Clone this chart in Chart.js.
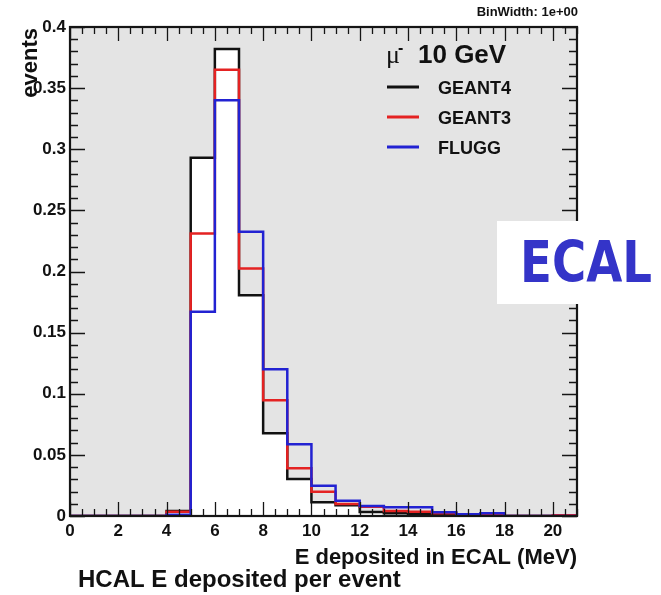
<!DOCTYPE html>
<html>
<head>
<meta charset="utf-8">
<script src="https://cdn.jsdelivr.net/npm/chart.js@4.4.0/dist/chart.umd.min.js"></script>
<style>
  html, body { margin: 0; padding: 0; background: #fff; }
  #wrap { position: relative; width: 661px; height: 595px; }
</style>
</head>
<body>
<div id="wrap"><canvas id="ecalChart" width="661" height="595"></canvas></div>
<script>
// energy bins, 1 MeV wide (left edges 0..20, closing edge 21)
const binEdges = [0, 1, 2, 3, 4, 5, 6, 7, 8, 9, 10, 11, 12, 13, 14, 15, 16, 17, 18, 19, 20, 21];

// fraction of events per bin
const geant4 = [0, 0, 0, 0, 0.004, 0.293, 0.382, 0.1805, 0.0676, 0.0303, 0.0112, 0.0087, 0.0033, 0.0022, 0.0014, 0.0008, 0.0003, 0, 0, 0, 0];
const geant3 = [0, 0, 0, 0, 0.0035, 0.231, 0.365, 0.2025, 0.0946, 0.039, 0.0199, 0.0098, 0.0076, 0.0041, 0.0035, 0.0022, 0.0008, 0.001, 0, 0, 0.0006];
const flugg  = [0, 0, 0, 0, 0.001, 0.167, 0.340, 0.2325, 0.120, 0.0586, 0.0248, 0.0125, 0.0082, 0.0071, 0.0071, 0.003, 0.0014, 0.0022, 0, 0, 0];

const xTicks = [0, 2, 4, 6, 8, 10, 12, 14, 16, 18, 20];
const yTicks = [0, 0.05, 0.1, 0.15, 0.2, 0.25, 0.3, 0.35, 0.4];

const seriesNames = ['GEANT4', 'GEANT3', 'FLUGG'];
const seriesColors = ['#111111', '#e42222', '#2222d2'];

const labelFont = "'Liberation Sans', Arial, sans-serif";

// histogram outline: each left edge carries its bin value, last edge closes the last bin
function stepPoints(values) {
  return binEdges.map((x, i) => ({ x: x, y: values[Math.min(i, values.length - 1)] }));
}

// grey pad behind the histograms
const padBackground = {
  id: 'padBackground',
  beforeDraw(chart) {
    const { ctx, chartArea: a } = chart;
    ctx.save();
    ctx.fillStyle = '#e4e4e4';
    ctx.fillRect(a.left, a.top, a.width, a.height);
    ctx.restore();
  }
};

// ROOT style frame with ticks pointing inwards on all four sides
const frameTicks = {
  id: 'frameTicks',
  afterDatasetsDraw(chart) {
    const { ctx, chartArea: a, scales } = chart;
    const xs = scales.x, ys = scales.y;
    ctx.save();
    ctx.strokeStyle = '#151515';
    ctx.lineWidth = 1.3;
    ctx.beginPath();
    for (let k = 0; k <= 42; k++) {
      const px = Math.round(xs.getPixelForValue(k * 0.5)) + 0.5;
      const len = k % 4 === 0 ? 14 : 7;
      ctx.moveTo(px, a.bottom); ctx.lineTo(px, a.bottom - len);
      ctx.moveTo(px, a.top); ctx.lineTo(px, a.top + len);
    }
    for (let k = 0; k <= 40; k++) {
      const py = Math.round(ys.getPixelForValue(k * 0.01)) + 0.5;
      const len = k % 5 === 0 ? 15 : 8;
      ctx.moveTo(a.left, py); ctx.lineTo(a.left + len, py);
      ctx.moveTo(a.right, py); ctx.lineTo(a.right - len, py);
    }
    ctx.stroke();
    ctx.lineWidth = 2.2;
    ctx.strokeRect(a.left, a.top, a.width, a.height);
    ctx.restore();
  }
};

// titles, legend and the ECAL tag
const annotations = {
  id: 'annotations',
  afterDraw(chart) {
    const { ctx, chartArea: a } = chart;
    ctx.save();
    ctx.fillStyle = '#111';

    ctx.font = 'bold 13px ' + labelFont;
    ctx.textAlign = 'right';
    ctx.fillText('BinWidth: 1e+00', a.right + 1, 16);

    ctx.font = 'bold 22px ' + labelFont;
    ctx.fillText('E deposited in ECAL (MeV)', a.right, 564);

    ctx.save();
    ctx.translate(37, 28);
    ctx.rotate(-Math.PI / 2);
    ctx.textAlign = 'right';
    ctx.fillText('events', 0, 0);
    ctx.restore();

    ctx.textAlign = 'left';
    ctx.font = 'bold 24px ' + labelFont;
    ctx.fillText('HCAL E deposited per event', 78, 587);

    // legend header
    ctx.font = "26px 'Liberation Serif', 'Times New Roman', serif";
    ctx.fillText('\u03bc', 386, 63);
    ctx.font = 'bold 16px ' + labelFont;
    ctx.fillText('-', 398, 53);
    ctx.font = 'bold 26px ' + labelFont;
    ctx.fillText('10 GeV', 418, 63);

    const rows = [87, 117, 147];
    ctx.font = 'bold 18px ' + labelFont;
    seriesNames.forEach((name, i) => {
      ctx.strokeStyle = seriesColors[i];
      ctx.lineWidth = 3;
      ctx.beginPath();
      ctx.moveTo(387, rows[i]);
      ctx.lineTo(419, rows[i]);
      ctx.stroke();
      ctx.fillStyle = '#111';
      ctx.fillText(name, 438, rows[i] + 6.5);
    });

    // ECAL tag over the right edge of the pad
    ctx.fillStyle = '#ffffff';
    ctx.fillRect(497, 221, 164, 83);
    ctx.font = "bold 46px 'Comic Sans MS', 'DejaVu Sans', sans-serif";
    const w = ctx.measureText('ECAL').width;
    ctx.translate(520, 282);
    ctx.scale(132 / w, 1.25);
    ctx.fillStyle = '#3434c8';
    ctx.fillText('ECAL', 0, 0);
    ctx.restore();
  }
};

const ctx = document.getElementById('ecalChart').getContext('2d');

const histChart = new Chart(ctx, {
  type: 'line',
  data: {
    datasets: [
      {
        label: seriesNames[0],
        data: stepPoints(geant4),
        borderColor: seriesColors[0],
        backgroundColor: '#ffffff',
        fill: 'origin',
        order: 3
      },
      {
        label: seriesNames[1],
        data: stepPoints(geant3),
        borderColor: seriesColors[1],
        fill: false,
        order: 2
      },
      {
        label: seriesNames[2],
        data: stepPoints(flugg),
        borderColor: seriesColors[2],
        fill: false,
        order: 1
      }
    ]
  },
  options: {
    responsive: false,
    animation: false,
    devicePixelRatio: 1,
    layout: { padding: { top: 27, right: 84, left: 0, bottom: 0 } },
    elements: {
      line: { stepped: true, tension: 0, borderWidth: 2.5, borderJoinStyle: 'miter', borderCapStyle: 'butt' },
      point: { radius: 0, hoverRadius: 0 }
    },
    plugins: {
      legend: { display: false },
      tooltip: { enabled: false },
      filler: { drawTime: 'beforeDatasetsDraw' }
    },
    scales: {
      x: {
        type: 'linear',
        min: 0,
        max: 21,
        grid: { display: false, drawTicks: false },
        border: { display: false },
        afterBuildTicks: (s) => { s.ticks = xTicks.map(v => ({ value: v })); },
        afterFit: (s) => { s.height = 79; },
        ticks: {
          autoSkip: false,
          maxRotation: 0,
          padding: 5,
          color: '#111',
          font: { family: labelFont, size: 17, weight: 'bold' },
          callback: (v) => String(v)
        }
      },
      y: {
        min: 0,
        max: 0.4,
        grid: { display: false, drawTicks: false },
        border: { display: false },
        afterBuildTicks: (s) => { s.ticks = yTicks.map(v => ({ value: v })); },
        afterFit: (s) => { s.width = 70; },
        ticks: {
          autoSkip: false,
          padding: 4,
          color: '#111',
          font: { family: labelFont, size: 17, weight: 'bold' },
          callback: (v) => String(v)
        }
      }
    }
  },
  plugins: [padBackground, frameTicks, annotations]
});
</script>
</body>
</html>
